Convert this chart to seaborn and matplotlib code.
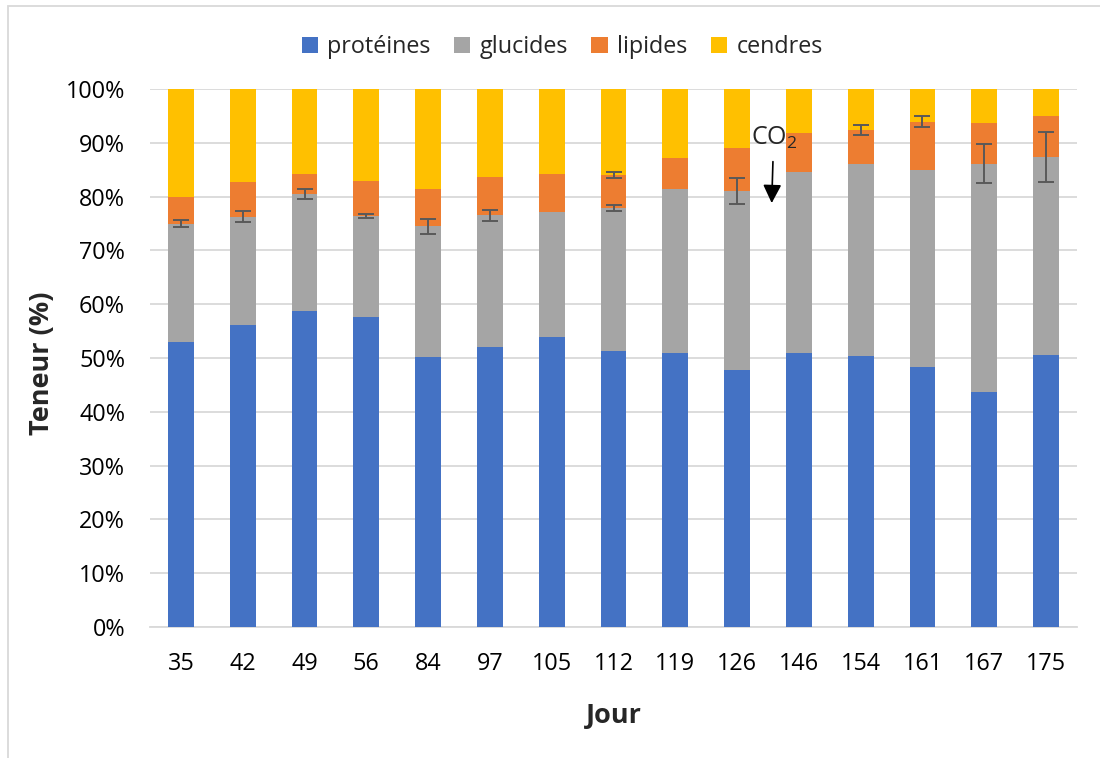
import matplotlib
matplotlib.use("Agg")
import matplotlib.pyplot as plt
from matplotlib.patches import Patch, Rectangle
import numpy as np
import pandas as pd
import seaborn as sns

# ---- data ----
jours = ["35", "42", "49", "56", "84", "97", "105", "112", "119", "126", "146", "154", "161", "167", "175"]
proteines = [53.0, 56.1, 58.8, 57.7, 50.2, 52.1, 53.9, 51.3, 50.9, 47.8, 50.9, 50.4, 48.4, 43.7, 50.5]
glucides = [22.0, 20.2, 21.7, 18.7, 24.3, 24.4, 23.3, 26.5, 30.5, 33.2, 33.6, 35.6, 36.5, 42.4, 36.9]
lipides = [5.0, 6.4, 3.7, 6.5, 7.0, 7.2, 7.0, 6.3, 5.7, 8.0, 7.4, 6.4, 9.0, 7.6, 7.5]
cendres = [20.0, 17.3, 15.8, 17.1, 18.5, 16.3, 15.8, 15.9, 12.9, 11.0, 8.1, 7.6, 6.1, 6.3, 5.1]
err_glucides = [0.6, 1.0, 0.9, 0.4, 1.4, 1.1, np.nan, 0.55, np.nan, 2.4, np.nan, np.nan, np.nan, 3.6, 4.7]
err_lipides = [np.nan, np.nan, np.nan, np.nan, np.nan, np.nan, np.nan, 0.55, np.nan, np.nan, np.nan, 0.9, 1.0, np.nan, np.nan]

series = ["protéines", "glucides", "lipides", "cendres"]
colors = ["#4472C4", "#A5A5A5", "#ED7D31", "#FFC000"]

df = pd.DataFrame({"jour": jours, "protéines": proteines, "glucides": glucides,
                   "lipides": lipides, "cendres": cendres})
cum = df[series].cumsum(axis=1)

sns.set_theme(style="white")
plt.rcParams["font.family"] = ["Open Sans", "DejaVu Sans"]
plt.rcParams["mathtext.default"] = "regular"

fig = plt.figure(figsize=(11, 7.58), dpi=100)
ax = fig.add_axes([150 / 1100, 1 - 627 / 758, 927 / 1100, 538 / 758])

# draw cumulative bars from top layer down
for s, c in reversed(list(zip(series, colors))):
    sns.barplot(x=df["jour"], y=cum[s], order=jours, color=c, width=0.42,
                linewidth=0, saturation=1, ax=ax, zorder=3)

xpos = np.arange(len(jours))
ax.errorbar(xpos, cum["glucides"], yerr=err_glucides, fmt="none", ecolor="#595959",
            elinewidth=1.4, capsize=6, capthick=1.4, zorder=5)
ax.errorbar(xpos, cum["lipides"], yerr=err_lipides, fmt="none", ecolor="#595959",
            elinewidth=1.4, capsize=6, capthick=1.4, zorder=5)

ax.set_xlim(-0.5, len(jours) - 0.5)
ax.set_ylim(0, 100)
ax.set_yticks(np.arange(0, 101, 10))
ax.set_yticklabels([f"{v}%" for v in range(0, 101, 10)])
ax.yaxis.grid(True, color="#D9D9D9", linewidth=1.3, zorder=0)
ax.set_axisbelow(True)
for sp in ["top", "right", "left"]:
    ax.spines[sp].set_visible(False)
ax.spines["bottom"].set_color("#D9D9D9")
ax.spines["bottom"].set_linewidth(1.3)
ax.tick_params(axis="both", length=0, labelsize=16.8, colors="black")
ax.tick_params(axis="x", pad=18)
ax.tick_params(axis="y", pad=18)

ax.set_xlabel("Jour", fontsize=19.5, fontweight="bold")
ax.set_ylabel("Teneur (%)", fontsize=19.5, fontweight="bold")
ax.xaxis.set_label_coords(0.5, -0.142)
ax.yaxis.set_label_coords(-0.103, 0.49)

# CO2 annotation
ax.annotate("", xy=(9.56, 78.8), xytext=(9.58, 86.5),
            arrowprops=dict(arrowstyle="-|>", color="black", lw=1.2,
                            mutation_scale=28, shrinkA=0, shrinkB=0), zorder=6)
ax.text(9.6, 89.6, "CO$_2$", fontsize=18, ha="center", va="baseline", zorder=6)

handles = [Patch(facecolor=c, edgecolor="none", label=s) for s, c in zip(series, colors)]
fig.legend(handles=handles, loc="center", bbox_to_anchor=(0.511, 1 - 47 / 758), ncol=4,
           frameon=False, fontsize=16.8, handlelength=0.7, handleheight=0.7,
           handletextpad=0.4, columnspacing=1.0)

# outer chart frame
fig.patches.append(Rectangle((8 / 1100, -0.2), 2, 1.2 - 6 / 758, transform=fig.transFigure,
                             fill=False, edgecolor="#D9D9D9", linewidth=1.3))

fig.savefig("out.png", dpi=100, facecolor="white")
